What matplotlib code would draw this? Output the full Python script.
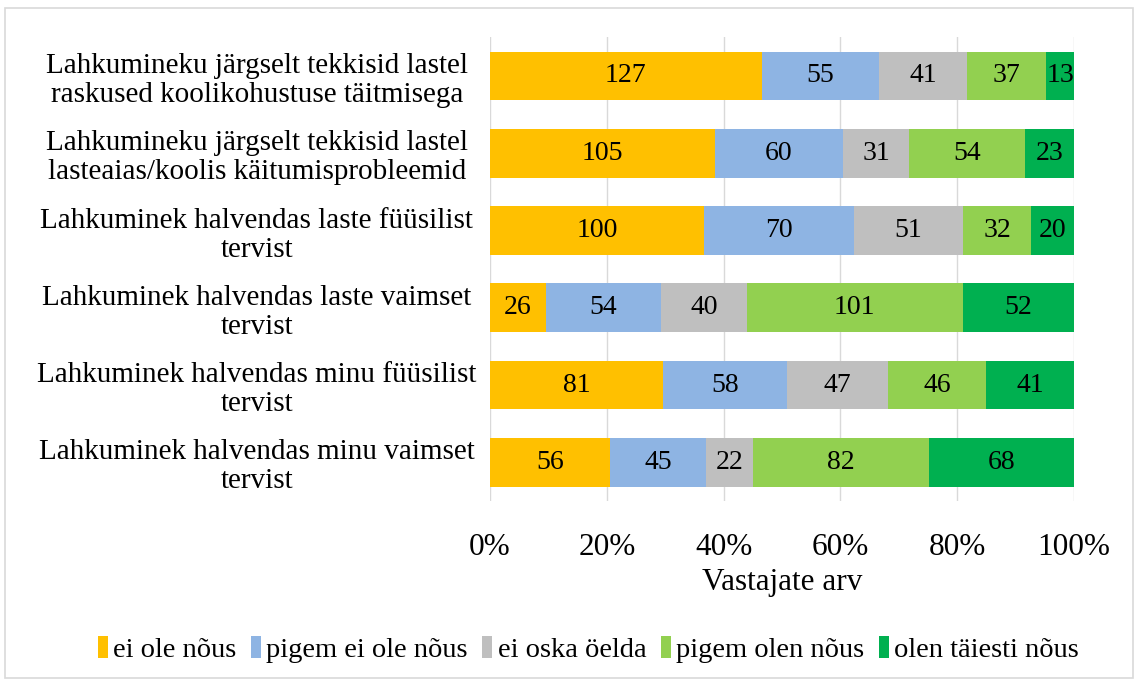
import numpy as np
import matplotlib
matplotlib.use('Agg')
import matplotlib.pyplot as plt
from matplotlib.patches import Rectangle

plt.rcParams['font.family'] = ['Liberation Serif', 'DejaVu Serif']

# Andmed
kategooriad = [
    'Lahkumineku järgselt tekkisid lastel\nraskused koolikohustuse täitmisega',
    'Lahkumineku järgselt tekkisid lastel\nlasteaias/koolis käitumisprobleemid',
    'Lahkuminek halvendas laste füüsilist\ntervist',
    'Lahkuminek halvendas laste vaimset\ntervist',
    'Lahkuminek halvendas minu füüsilist\ntervist',
    'Lahkuminek halvendas minu vaimset\ntervist',
]
vastused = ['ei ole nõus', 'pigem ei ole nõus', 'ei oska öelda', 'pigem olen nõus', 'olen täiesti nõus']
ei_ole = [127, 105, 100, 26, 81, 56]
pigem_ei = [55, 60, 70, 54, 58, 45]
ei_oska = [41, 31, 51, 40, 47, 22]
pigem_jah = [37, 54, 32, 101, 46, 82]
taiesti = [13, 23, 20, 52, 41, 68]
x_sildid = ['0%', '20%', '40%', '60%', '80%', '100%']

varvid = ['#FFC000', '#8EB4E3', '#BFBFBF', '#92D050', '#00B050']

andmed = np.array([ei_ole, pigem_ei, ei_oska, pigem_jah, taiesti], dtype=float)
kokku = andmed.sum(axis=0)
osakaal = andmed / kokku

fig = plt.figure(figsize=(11.38, 6.84), dpi=100)
ax = fig.add_axes([0.4306, 0.2675, 0.5132, 0.678])

y = np.arange(len(kategooriad))
vasak = np.zeros(len(kategooriad))
for i in range(len(vastused)):
    bars = ax.barh(y, osakaal[i], left=vasak, height=0.63, color=varvid[i],
                   label=vastused[i], zorder=3)
    ax.bar_label(bars, labels=[str(int(v)) for v in andmed[i]], label_type='center',
                 fontsize=20, color='black')
    vasak += osakaal[i]

ax.set_xlim(0, 1)
ax.set_ylim(len(kategooriad) - 0.5, -0.5)
ax.set_xticks(np.linspace(0, 1, 6))
ax.set_xticklabels(x_sildid, fontsize=22.5)
ax.set_yticks(y)
ax.set_yticklabels(kategooriad, fontsize=21, multialignment='center', linespacing=1.15)
for lab in ax.get_yticklabels():
    lab.set_horizontalalignment('center')
ax.tick_params(axis='y', length=0, pad=168)
ax.tick_params(axis='x', length=0, pad=23)
ax.set_xlabel('Vastajate arv', fontsize=22.5, labelpad=4)

ax.grid(axis='x', color='#D9D9D9', linewidth=1, zorder=0)
for s in ax.spines.values():
    s.set_visible(False)

fig.legend(loc='center', bbox_to_anchor=(0.517, 0.051), ncol=5, frameon=False,
           fontsize=20.5, handlelength=0.35, handleheight=0.8, handletextpad=0.2,
           columnspacing=0.5)

fig.patches.append(Rectangle((0.004, 0.009), 0.992, 0.979, transform=fig.transFigure,
                             fill=False, edgecolor='#D9D9D9', linewidth=1.2))

plt.savefig('out.png', dpi=100)
